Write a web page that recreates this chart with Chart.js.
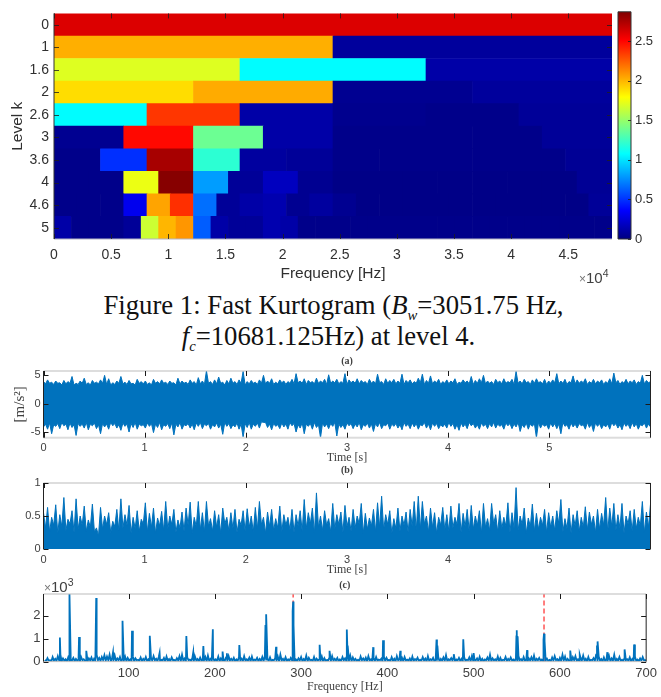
<!DOCTYPE html>
<html>
<head>
<meta charset="utf-8">
<title>Fast Kurtogram</title>
<script src="https://cdn.jsdelivr.net/npm/chart.js@4"></script>
<style>
    html, body { margin: 0; padding: 0; background: #fff; }
    #page { position: relative; width: 661px; height: 697px; overflow: hidden; }
    #page canvas { position: absolute; }
    .scale-note { position: absolute; font-family: "Liberation Sans", sans-serif; color: #404040; white-space: nowrap; }
    .scale-note sup { font-size: 70%; line-height: 0; }
    .scale-note i { font-style: normal; font-size: 80%; color: #777; }
    #caption { position: absolute; left: 0; top: 290px; width: 661px; text-align: center; color: #111;
        font: 26.7px/31px "Liberation Serif", serif; }
    #caption div { position: relative; }
    #caption sub { font-size: 55%; line-height: 0; font-style: italic; }
</style>
</head>
<body>
<div id="page">
    <canvas id="kurtogram" width="616" height="285" style="left:0;top:0"></canvas>
    <canvas id="colorbar" width="49" height="285" style="left:612px;top:0"></canvas>
    <div class="scale-note" style="left:579px;top:269px;font-size:15px"><i>×</i>10<sup>4</sup></div>
    <div id="caption">
        <div style="left:3px">Figure 1: Fast Kurtogram (<i>B</i><sub>w</sub>=3051.75 Hz,</div>
        <div style="left:-2px"><i>f</i><sub>c</sub>=10681.125Hz) at level 4.</div>
    </div>
    <canvas id="waveform" width="661" height="114" style="left:0;top:352px"></canvas>
    <canvas id="envelope" width="661" height="116" style="left:0;top:461px"></canvas>
    <canvas id="spectrum" width="661" height="121" style="left:0;top:576px"></canvas>
    <div class="scale-note" style="left:44px;top:578px;font-size:15px"><i>×</i>10<sup>3</sup></div>
</div>
<script>
// Kurtogram: one row of band values per level, low to high frequency
const levels = ['0', '1', '1.6', '2', '2.6', '3', '3.6', '4', '4.6', '5'];
const kurtMax = 2.87;
const nyquist = 48828;
const kRow0 = [2.61];
const kRow1 = [2.02, 0.08];
const kRow2 = [1.70, 1.07, 0.11];
const kRow3 = [1.89, 2.03, 0.05, 0.08];
const kRow4 = [1.07, 2.36, 0.11, 0.04, 0.03, 0.07];
const kRow5 = [0.05, 2.49, 1.38, 0.11, 0.03, 0.03, 0.03, 0.07];
const kRow6 = [0.03, 0.49, 2.76, 1.20, 0.09, 0.07, 0.03, 0.03, 0.03, 0.03, 0.03, 0.06];
const kRow7 = [0.03, 0.03, 1.74, 2.85, 0.80, 0.07, 0.18, 0.05, 0.02, 0.02, 0.02, 0.02, 0.02, 0.02, 0.02, 0.06];
const kRow8 = [0.03, 0.03, 0.03, 0.31, 2.05, 2.38, 0.67, 0.07, 0.11, 0.135, 0.05, 0.09,
    0.05, 0.02, 0.02, 0.02, 0.02, 0.02, 0.02, 0.02, 0.02, 0.02, 0.02, 0.07];
const kRow9 = [0.11, 0.03, 0.03, 0.03, 0.07, 1.65, 2.00, 2.09, 0.62, 0.11, 0.07, 0.07, 0.135, 0.11, 0.03, 0.03,
    0.03, 0.03, 0.03, 0.03, 0.03, 0.03, 0.03, 0.03, 0.03, 0.03, 0.03, 0.03, 0.03, 0.03, 0.03, 0.03];
const kRows = [kRow0, kRow1, kRow2, kRow3, kRow4, kRow5, kRow6, kRow7, kRow8, kRow9];
const kFreqTicks = [0, 5000, 10000, 15000, 20000, 25000, 30000, 35000, 40000, 45000];
const kBarTicks = [0, 0.5, 1, 1.5, 2, 2.5];

// Panel (a): spike tops of the raw signal, and the notches between them
const aHigh = [3.9, 4.2, 3.8, 4.0, 3.7, 4.1, 3.9, 4.8, 3.6, 4.0,
    4.5, 3.7, 4.1, 3.8, 4.2, 5.0, 4.4, 3.7, 4.0, 4.8,
    3.8, 4.1, 3.6, 4.3, 3.9, 4.0, 3.7, 4.3, 3.9, 4.2,
    3.8, 4.0, 3.7, 4.5, 4.0, 3.8, 4.2, 3.9, 4.6, 4.0,
    5.8, 3.9, 4.2, 4.7, 3.8, 4.1, 4.5, 3.9, 4.2, 5.7,
    3.9, 4.1, 3.8, 4.2, 5.0, 4.0, 4.4, 3.8, 4.2, 4.0,
    3.9, 4.3, 5.3, 4.0, 4.4, 4.1, 3.9, 4.5, 4.0, 4.3,
    5.1, 4.0, 4.3, 3.9, 5.3, 4.2, 4.0, 4.4, 4.1, 3.9,
    4.3, 4.0, 5.2, 3.9, 4.4, 4.1, 4.3, 4.0, 5.2, 4.1,
    4.2, 3.9, 4.5, 5.2, 4.1, 4.9, 4.0, 4.3, 3.9, 4.2,
    4.0, 4.4, 3.8, 4.2, 4.0, 4.8, 4.1, 4.4, 5.0, 4.0,
    3.9, 4.3, 4.0, 4.4, 3.9, 4.3, 5.7, 4.0, 4.3, 3.9,
    4.2, 4.4, 3.9, 4.3, 4.0, 4.2, 5.3, 4.0, 4.3, 3.9,
    4.9, 4.2, 4.0, 4.4, 3.9, 4.3, 4.0, 4.2, 3.9, 4.4,
    5.4, 4.1, 3.9, 4.3, 4.0, 4.2, 3.9, 5.0, 4.1, 3.9];
const aHighNotch = [3.5, 3.6, 3.4, 3.6, 3.3, 3.5, 3.6, 3.3, 3.4, 3.6,
    3.4, 3.3, 3.6, 3.5, 3.6, 3.4, 3.3, 3.4, 3.6, 3.5,
    3.4, 3.5, 3.3, 3.6, 3.5, 3.4, 3.3, 3.6, 3.5, 3.6,
    3.4, 3.6, 3.3, 3.5, 3.6, 3.4, 3.6, 3.3, 3.5, 3.4,
    3.6, 3.4, 3.5, 3.6, 3.3, 3.5, 3.6, 3.4, 3.6, 3.3,
    3.5, 3.6, 3.4, 3.6, 3.5, 3.6, 3.4, 3.5, 3.7, 3.4,
    3.6, 3.5, 3.7, 3.6, 3.4, 3.7, 3.5, 3.6, 3.7, 3.4,
    3.6, 3.7, 3.5, 3.6, 3.4, 3.7, 3.6, 3.5, 3.7, 3.4,
    3.6, 3.5, 3.7, 3.4, 3.6, 3.7, 3.5, 3.6, 3.4, 3.7,
    3.5, 3.6, 3.7, 3.4, 3.6, 3.5, 3.7, 3.4, 3.6, 3.5,
    3.7, 3.4, 3.6, 3.7, 3.5, 3.4, 3.6, 3.7, 3.5, 3.6,
    3.4, 3.7, 3.5, 3.6, 3.7, 3.4, 3.6, 3.5, 3.7, 3.4,
    3.6, 3.7, 3.5, 3.4, 3.6, 3.7, 3.5, 3.6, 3.4, 3.7,
    3.5, 3.6, 3.7, 3.4, 3.6, 3.5, 3.7, 3.4, 3.6, 3.5,
    3.7, 3.4, 3.6, 3.5, 3.7, 3.4, 3.6, 3.5, 3.7, 3.5];
const aLow = [-4.1, -4.5, -5.3, -4.0, -4.4, -3.9, -4.6, -4.2, -5.6, -4.0,
    -4.3, -4.6, -3.9, -4.4, -5.3, -4.1, -4.5, -3.9, -4.3, -4.7,
    -4.0, -5.0, -4.2, -4.5, -3.9, -4.3, -4.0, -5.1, -4.2, -4.6,
    -4.0, -4.4, -5.5, -4.1, -4.5, -3.9, -4.3, -4.6, -4.0, -4.4,
    -3.9, -4.5, -4.1, -4.3, -5.4, -4.0, -4.4, -4.1, -4.5, -5.9,
    -4.2, -4.5, -4.0, -4.3, -3.3, -4.2, -4.6, -4.0, -4.4, -4.1,
    -4.5, -3.9, -5.0, -4.3, -5.3, -4.0, -4.5, -4.2, -6.0, -4.1,
    -4.4, -4.0, -5.7, -4.2, -4.5, -3.9, -4.4, -4.1, -4.6, -4.0,
    -4.3, -4.9, -4.1, -4.4, -3.9, -4.5, -4.0, -4.3, -4.6, -4.0,
    -4.4, -4.1, -4.5, -3.9, -4.3, -4.6, -4.0, -4.4, -4.1, -4.3,
    -4.0, -4.5, -4.7, -4.1, -4.4, -3.9, -4.3, -4.5, -4.0, -4.4,
    -4.1, -4.3, -4.0, -4.5, -3.9, -4.4, -4.1, -4.9, -4.2, -4.5,
    -4.0, -6.0, -4.3, -4.0, -4.5, -4.1, -4.4, -5.3, -4.0, -4.5,
    -4.1, -4.3, -3.9, -4.5, -4.2, -4.9, -4.0, -4.4, -4.1, -4.5,
    -3.9, -4.3, -4.6, -4.0, -4.4, -4.1, -4.5, -3.9, -4.3, -4.1];
const aLowNotch = [-3.6, -3.4, -3.7, -3.5, -3.3, -3.6, -3.4, -3.7, -3.5, -3.6,
    -3.3, -3.6, -3.4, -3.7, -3.5, -3.6, -3.3, -3.5, -3.7, -3.4,
    -3.6, -3.5, -3.3, -3.6, -3.7, -3.4, -3.5, -3.6, -3.3, -3.7,
    -3.5, -3.4, -3.6, -3.3, -3.7, -3.5, -3.6, -3.4, -3.3, -3.6,
    -3.5, -3.7, -3.4, -3.6, -3.3, -3.5, -3.7, -3.4, -3.6, -3.5,
    -3.3, -3.6, -3.4, -3.2, -3.3, -3.6, -3.5, -3.7, -3.4, -3.6,
    -3.3, -3.5, -3.7, -3.4, -3.6, -3.5, -3.3, -3.7, -3.4, -3.6,
    -3.5, -3.3, -3.6, -3.7, -3.4, -3.5, -3.6, -3.3, -3.7, -3.4,
    -3.6, -3.5, -3.3, -3.7, -3.4, -3.6, -3.5, -3.7, -3.3, -3.6,
    -3.4, -3.5, -3.7, -3.3, -3.6, -3.4, -3.5, -3.7, -3.6, -3.3,
    -3.5, -3.7, -3.4, -3.6, -3.3, -3.5, -3.7, -3.4, -3.6, -3.5,
    -3.3, -3.6, -3.7, -3.4, -3.5, -3.6, -3.3, -3.7, -3.4, -3.6,
    -3.5, -3.3, -3.6, -3.7, -3.4, -3.5, -3.6, -3.3, -3.7, -3.4,
    -3.6, -3.5, -3.7, -3.3, -3.6, -3.4, -3.5, -3.7, -3.6, -3.3,
    -3.5, -3.7, -3.4, -3.6, -3.3, -3.5, -3.7, -3.4, -3.6, -3.5];
const aXTicks = [0, 1, 2, 3, 4, 5];
const aYTicks = [-5, 0, 5];

// Panel (b): spike tops and the valleys between them, one pair per time step
const bPeaks = [0.55, 0.63, 0.48, 0.67, 0.52, 0.78, 0.45, 0.58, 0.76, 0.50,
    0.65, 0.44, 0.68, 0.32, 0.63, 0.50, 0.55, 0.42, 0.60, 0.76,
    0.52, 0.66, 0.48, 0.58, 0.45, 0.70, 0.54, 0.62, 0.47, 0.57,
    0.72, 0.50, 0.60, 0.44, 0.56, 0.62, 0.71, 0.48, 0.72, 0.55,
    0.72, 0.46, 0.58, 0.52, 0.62, 0.48, 0.55, 0.60, 0.45, 0.58,
    0.61, 0.50, 0.63, 0.72, 0.48, 0.56, 0.60, 0.46, 0.65, 0.52,
    0.48, 0.60, 0.52, 0.58, 0.75, 0.55, 0.62, 0.85, 0.50, 0.58,
    0.46, 0.69, 0.52, 0.56, 0.66, 0.48, 0.60, 0.50, 0.69, 0.54,
    0.47, 0.60, 0.70, 0.80, 0.52, 0.58, 0.46, 0.62, 0.50, 0.56,
    0.60, 0.72, 0.80, 0.72, 0.50, 0.62, 0.55, 0.48, 0.63, 0.52,
    0.65, 0.48, 0.69, 0.54, 0.60, 0.66, 0.50, 0.58, 0.69, 0.46,
    0.69, 0.52, 0.58, 0.48, 0.70, 0.55, 0.93, 0.50, 0.62, 0.47,
    0.68, 0.54, 0.48, 0.60, 0.55, 0.50, 0.58, 0.75, 0.46, 0.62,
    0.52, 0.58, 0.48, 0.64, 0.56, 0.50, 0.60, 0.54, 0.78, 0.62,
    0.69, 0.52, 0.69, 0.50, 0.58, 0.60, 0.48, 0.72, 0.56, 0.68];
const bValleys = [0.32, 0.26, 0.36, 0.24, 0.34, 0.28, 0.38, 0.25, 0.30, 0.36,
    0.27, 0.33, 0.26, 0.20, 0.30, 0.37, 0.25, 0.34, 0.28, 0.32,
    0.36, 0.24, 0.31, 0.27, 0.38, 0.26, 0.33, 0.24, 0.35, 0.28,
    0.30, 0.37, 0.25, 0.32, 0.27, 0.36, 0.24, 0.34, 0.29, 0.26,
    0.35, 0.27, 0.33, 0.24, 0.38, 0.28, 0.31, 0.25, 0.36, 0.27,
    0.33, 0.26, 0.30, 0.37, 0.24, 0.34, 0.28, 0.32, 0.26, 0.36,
    0.29, 0.25, 0.35, 0.27, 0.31, 0.38, 0.24, 0.33, 0.28, 0.36,
    0.26, 0.30, 0.37, 0.25, 0.34, 0.27, 0.32, 0.38, 0.24, 0.30,
    0.35, 0.26, 0.33, 0.29, 0.37, 0.24, 0.31, 0.27, 0.36, 0.25,
    0.34, 0.28, 0.30, 0.38, 0.26, 0.33, 0.24, 0.36, 0.29, 0.27,
    0.32, 0.37, 0.25, 0.34, 0.27, 0.30, 0.36, 0.24, 0.33, 0.28,
    0.38, 0.26, 0.31, 0.35, 0.25, 0.32, 0.28, 0.37, 0.24, 0.34,
    0.27, 0.30, 0.36, 0.25, 0.33, 0.28, 0.38, 0.26, 0.31, 0.24,
    0.35, 0.27, 0.33, 0.29, 0.37, 0.25, 0.30, 0.36, 0.26, 0.34,
    0.28, 0.32, 0.24, 0.38, 0.27, 0.31, 0.35, 0.25, 0.33, 0.28];
const bXTicks = [0, 1, 2, 3, 4, 5];
const bYTicks = [0, 0.5, 1];

// Panel (c): noise floor tops every 3 Hz from 3 Hz, the dips 1.5 Hz after them, then the spectral lines
const cFloor = [0.08, 0.15, 0.06, 0.20, 0.12, 0.24, 0.30, 0.14, 0.10, 0.18, 0.07, 0.16, 0.12, 0.09, 0.20, 0.10, 0.06, 0.14, 0.18, 0.12,
    0.30, 0.16, 0.20, 0.28, 0.22, 0.30, 0.18, 0.26, 0.14, 0.20, 0.12, 0.22, 0.16, 0.10, 0.24, 0.14, 0.08, 0.18, 0.12, 0.20,
    0.10, 0.17, 0.24, 0.12, 0.20, 0.08, 0.16, 0.22, 0.11, 0.18, 0.07, 0.15, 0.24, 0.30, 0.13, 0.19, 0.09, 0.16, 0.22, 0.11,
    0.17, 0.08, 0.20, 0.26, 0.12, 0.18, 0.10, 0.22, 0.14, 0.08, 0.18, 0.24, 0.12, 0.16, 0.09, 0.20, 0.13, 0.24, 0.10, 0.17,
    0.22, 0.09, 0.16, 0.12, 0.20, 0.25, 0.11, 0.18, 0.08, 0.15, 0.22, 0.30, 0.12, 0.19, 0.10, 0.16, 0.24, 0.09, 0.14, 0.20,
    0.11, 0.26, 0.16, 0.08, 0.20, 0.13, 0.10, 0.22, 0.15, 0.07, 0.18, 0.24, 0.12, 0.16, 0.09, 0.20, 0.14, 0.10, 0.26, 0.18,
    0.12, 0.08, 0.22, 0.14, 0.17, 0.24, 0.10, 0.15, 0.20, 0.09, 0.13, 0.22, 0.16, 0.08, 0.19, 0.12, 0.24, 0.10, 0.16, 0.20,
    0.09, 0.14, 0.22, 0.11, 0.17, 0.08, 0.20, 0.13, 0.24, 0.10, 0.16, 0.07, 0.21, 0.12, 0.18, 0.28, 0.10, 0.15, 0.22, 0.09,
    0.16, 0.12, 0.20, 0.08, 0.18, 0.24, 0.10, 0.14, 0.21, 0.12, 0.09, 0.18, 0.30, 0.14, 0.10, 0.22, 0.16, 0.08, 0.20, 0.12,
    0.18, 0.09, 0.15, 0.24, 0.11, 0.20, 0.08, 0.14, 0.19, 0.26, 0.12, 0.16, 0.09, 0.22, 0.13, 0.07, 0.18, 0.24, 0.11, 0.16,
    0.30, 0.22, 0.12, 0.08, 0.19, 0.24, 0.10, 0.16, 0.26, 0.12, 0.20, 0.08, 0.15, 0.30, 0.22, 0.11, 0.18, 0.09, 0.24, 0.14,
    0.30, 0.12, 0.20, 0.08, 0.16, 0.10, 0.18, 0.12, 0.22, 0.09, 0.14, 0.20, 0.06];
const cDips = [0.02, 0.04, 0.01, 0.05, 0.03, 0.06, 0.02, 0.04, 0.01, 0.03, 0.05, 0.02, 0.04, 0.01, 0.06, 0.03, 0.02, 0.05, 0.01, 0.04,
    0.06, 0.03, 0.07, 0.04, 0.06, 0.02, 0.05, 0.03, 0.06, 0.01, 0.04, 0.02, 0.05, 0.03, 0.01, 0.06, 0.04, 0.02, 0.05, 0.03,
    0.01, 0.04, 0.06, 0.02, 0.03, 0.05, 0.01, 0.04, 0.02, 0.06, 0.03, 0.05, 0.01, 0.04, 0.02, 0.06, 0.03, 0.01, 0.05, 0.02,
    0.04, 0.06, 0.01, 0.03, 0.05, 0.02, 0.04, 0.01, 0.06, 0.03, 0.02, 0.05, 0.04, 0.01, 0.03, 0.06, 0.02, 0.04, 0.05, 0.01,
    0.03, 0.06, 0.02, 0.04, 0.01, 0.05, 0.03, 0.02, 0.06, 0.04, 0.01, 0.05, 0.03, 0.02, 0.04, 0.06, 0.01, 0.03, 0.05, 0.02,
    0.04, 0.01, 0.06, 0.03, 0.02, 0.05, 0.04, 0.01, 0.03, 0.06, 0.02, 0.04, 0.05, 0.01, 0.03, 0.06, 0.02, 0.04, 0.01, 0.05,
    0.03, 0.02, 0.06, 0.04, 0.01, 0.05, 0.03, 0.02, 0.04, 0.06, 0.01, 0.03, 0.05, 0.02, 0.04, 0.01, 0.06, 0.03, 0.02, 0.05,
    0.04, 0.01, 0.03, 0.06, 0.02, 0.04, 0.05, 0.01, 0.03, 0.06, 0.02, 0.04, 0.01, 0.05, 0.03, 0.02, 0.06, 0.04, 0.01, 0.05,
    0.03, 0.02, 0.04, 0.06, 0.01, 0.03, 0.05, 0.02, 0.04, 0.01, 0.06, 0.03, 0.02, 0.05, 0.04, 0.01, 0.03, 0.06, 0.02, 0.04,
    0.05, 0.01, 0.03, 0.06, 0.02, 0.04, 0.01, 0.05, 0.03, 0.02, 0.06, 0.04, 0.01, 0.05, 0.03, 0.02, 0.04, 0.06, 0.01, 0.03,
    0.05, 0.02, 0.04, 0.01, 0.06, 0.03, 0.02, 0.05, 0.04, 0.01, 0.03, 0.06, 0.02, 0.04, 0.05, 0.01, 0.03, 0.06, 0.02, 0.04,
    0.01, 0.05, 0.03, 0.02, 0.06, 0.04, 0.01, 0.05, 0.03, 0.02, 0.04, 0.06, 0.01];
const cLineFreq = [20.4, 31.5, 42.6, 51, 62.5, 82, 93, 104, 124.6, 136, 167, 175, 186.7, 197.7, 209, 214, 228.4,
    258.7, 259.5, 271, 290.2, 290.8, 291.5, 321.5, 333, 353, 354, 383.6, 395, 415, 457, 458, 477, 488, 500,
    549.6, 550, 551, 562, 581, 581.6, 582.5, 612, 623, 643, 643.7, 655, 675, 686];
const cLineAmp = [1.05, 2.95, 1.07, 0.47, 2.77, 0.40, 1.78, 1.35, 1.13, 0.38, 1.12, 0.40, 0.68, 1.41, 0.44, 0.36, 0.72,
    1.60, 2.07, 0.65, 2.20, 2.62, 1.60, 0.73, 0.47, 1.40, 0.70, 0.63, 0.93, 0.47, 0.96, 0.70, 0.32, 0.97, 0.37,
    1.10, 1.37, 1.10, 0.50, 0.95, 1.22, 0.90, 0.48, 0.30, 0.70, 0.88, 0.41, 0.53, 0.75];
const cHarmonics = [290.8, 581.6];
const cXTicks = [100, 200, 300, 400, 500, 600, 700];
const cYTicks = [0, 1, 2];

const BLUE = '#0072BD';
const SANS = '"Liberation Sans", Arial, sans-serif';
const SERIF = '"Liberation Serif", "Times New Roman", serif';
const TICK_TEXT = '#404040';

Chart.defaults.animation = false;
Chart.defaults.responsive = false;
Chart.defaults.plugins.legend.display = false;
Chart.defaults.plugins.tooltip.enabled = false;

// Matlab jet colormap, t from 0 to 1
function jet(t) {
    const ramp = (u) => Math.max(0, Math.min(1, u));
    const c = [
        ramp(Math.min(4 * t - 1.5, -4 * t + 4.5)),
        ramp(Math.min(4 * t - 0.5, -4 * t + 3.5)),
        ramp(Math.min(4 * t + 0.5, -4 * t + 2.5))
    ];
    return 'rgb(' + c.map(v => Math.round(v * 255)).join(',') + ')';
}

// Inward tick marks and the box round the axes, the way Matlab draws them
const boxPlugin = {
    id: 'box',
    afterDatasetsDraw(chart, args, o) {
        const ctx = chart.ctx;
        const a = chart.chartArea;
        ctx.save();
        (o.edges || []).forEach(e => {
            ctx.fillStyle = e.color;
            if (e.side === 'top') ctx.fillRect(a.left, a.top - e.width / 2, a.width, e.width);
            if (e.side === 'bottom') ctx.fillRect(a.left, a.bottom - e.width / 2, a.width, e.width);
            if (e.side === 'left') ctx.fillRect(a.left - e.width / 2, a.top, e.width, a.height);
            if (e.side === 'right') ctx.fillRect(a.right - e.width / 2, a.top, e.width, a.height);
        });
        ctx.fillStyle = o.tickColor || '#1a1a1a';
        const len = o.tickLength || 5;
        const sides = o.tickSides || '';
        if (chart.scales.x && chart.scales.x.options.display !== false) {
            chart.scales.x.ticks.forEach((t, i) => {
                const px = Math.round(chart.scales.x.getPixelForTick(i));
                if (sides.includes('t')) ctx.fillRect(px, a.top, 1, len);
                if (sides.includes('b')) ctx.fillRect(px, a.bottom - len, 1, len);
            });
        }
        chart.scales.y.ticks.forEach((t, i) => {
            const py = Math.round(chart.scales.y.getPixelForTick(i));
            if (sides.includes('l')) ctx.fillRect(a.left, py, len, 1);
            if (sides.includes('r')) ctx.fillRect(a.right - len, py, len, 1);
        });
        ctx.restore();
    }
};

function axisSize(size, key) {
    return function (scale) { scale[key] = size; };
}

function setTicks(values) {
    return function (scale) { scale.ticks = values.map(v => ({ value: v })); };
}

// ---- Kurtogram ----
const kBars = [];
const kColors = [];
kRows.forEach((row, r) => {
    row.forEach((value, i) => {
        kBars.push({ x: [nyquist * i / row.length, nyquist * (i + 1) / row.length], y: levels[r] });
        kColors.push(jet(value / kurtMax));
    });
});

new Chart(document.getElementById('kurtogram'), {
    type: 'bar',
    data: {
        labels: levels,
        datasets: [{ data: kBars, backgroundColor: kColors, barPercentage: 1, categoryPercentage: 1 }]
    },
    options: {
        indexAxis: 'y',
        layout: { padding: { top: 6, right: 4 } },
        scales: {
            x: {
                type: 'linear', min: 0, max: nyquist,
                grid: { display: false, drawTicks: false }, border: { display: false },
                afterBuildTicks: setTicks(kFreqTicks),
                afterFit: axisSize(46, 'height'),
                ticks: {
                    color: '#303030', font: { family: SANS, size: 14 }, padding: 8, maxRotation: 0, autoSkip: false,
                    callback: v => String(v / 10000)
                },
                title: {
                    display: true, text: 'Frequency [Hz]', color: '#303030',
                    font: { family: SANS, size: 15.5 }, padding: { top: 0, bottom: 2 }
                }
            },
            y: {
                type: 'category',
                grid: { display: false, drawTicks: false }, border: { display: false },
                afterFit: axisSize(54, 'width'),
                ticks: { color: '#303030', font: { family: SANS, size: 14 }, padding: 5, autoSkip: false },
                title: {
                    display: true, text: 'Level k', color: '#303030',
                    font: { family: SANS, size: 15.5 }, padding: { top: 8, bottom: 0 }
                }
            }
        },
        plugins: {
            box: {
                tickSides: 'tblr', tickLength: 5, tickColor: 'rgba(30,30,30,0.8)',
                edges: [
                    { side: 'left', color: '#333', width: 1 },
                    { side: 'bottom', color: '#b4b4c4', width: 1 }
                ]
            }
        }
    },
    plugins: [boxPlugin]
});

// ---- Colour bar ----
new Chart(document.getElementById('colorbar'), {
    type: 'bar',
    data: {
        labels: ['k'],
        datasets: [{
            data: [[0, kurtMax]],
            barPercentage: 1,
            categoryPercentage: 1,
            backgroundColor: (c) => {
                const area = c.chart.chartArea;
                if (!area) return '#000080';
                const g = c.chart.ctx.createLinearGradient(0, area.bottom, 0, area.top);
                [0, 0.125, 0.375, 0.625, 0.875, 1].forEach(s => g.addColorStop(s, jet(s)));
                return g;
            }
        }]
    },
    options: {
        layout: { padding: { top: 6, left: 6, bottom: 46 } },
        scales: {
            x: { display: false },
            y: {
                position: 'right', min: 0, max: kurtMax,
                grid: { display: false, drawTicks: false }, border: { display: false },
                afterBuildTicks: setTicks(kBarTicks),
                afterFit: axisSize(30, 'width'),
                ticks: {
                    color: '#303030', font: { family: SANS, size: 13 }, padding: 4, autoSkip: false,
                    callback: v => String(v)
                }
            }
        },
        plugins: {
            box: {
                tickSides: 'r', tickLength: 3, tickColor: 'rgba(30,30,30,0.8)',
                edges: [
                    { side: 'left', color: '#333', width: 1 },
                    { side: 'right', color: '#333', width: 1 },
                    { side: 'top', color: '#333', width: 1 },
                    { side: 'bottom', color: '#333', width: 1 }
                ]
            }
        }
    },
    plugins: [boxPlugin]
});

// Shared options for the three lower panels
function panelOptions(cfg) {
    return {
        layout: { padding: { right: 10.5 } },
        elements: { point: { radius: 0 }, line: { tension: 0 } },
        scales: {
            x: {
                type: 'linear', min: cfg.xMin, max: cfg.xMax,
                grid: { display: false, drawTicks: false }, border: { display: false },
                afterBuildTicks: setTicks(cfg.xTicks),
                afterFit: axisSize(cfg.bottom, 'height'),
                ticks: {
                    color: TICK_TEXT, font: { family: SANS, size: cfg.fontSize }, padding: cfg.xPad,
                    maxRotation: 0, autoSkip: false, callback: v => String(v)
                },
                title: {
                    display: true, text: cfg.xTitle, color: TICK_TEXT,
                    font: { family: SERIF, size: 12 }, padding: { top: 0, bottom: cfg.xTitlePad }
                }
            },
            y: {
                min: cfg.yMin, max: cfg.yMax,
                grid: { display: false, drawTicks: false }, border: { display: false },
                afterBuildTicks: setTicks(cfg.yTicks),
                afterFit: axisSize(43.5, 'width'),
                ticks: {
                    color: TICK_TEXT, font: { family: SANS, size: cfg.fontSize }, padding: 3,
                    autoSkip: false, callback: v => String(v)
                },
                title: {
                    display: !!cfg.yTitle, text: cfg.yTitle, color: TICK_TEXT,
                    font: { family: SERIF, size: 15 }, padding: { top: 11, bottom: 0 }
                }
            }
        },
        plugins: {
            title: {
                display: true, text: cfg.title, color: TICK_TEXT, fullSize: false,
                font: { family: SERIF, size: 10 }, padding: { top: 3, bottom: cfg.titlePad }
            },
            box: {
                tickSides: cfg.tickSides, tickLength: 5, tickColor: '#1a1a1a',
                edges: cfg.edges
            }
        }
    };
}

// Time steps shared by panels (a) and (b), spanning the full 6 s record
const tStep = 6 / 149;
const aTimes = aHigh.map((v, i) => i * tStep);

// Alternate spike and notch so the band keeps its ragged edge
function spikeTrace(tops, notches) {
    const out = [];
    tops.forEach((v, i) => {
        out.push({ x: aTimes[i], y: v });
        if (i < tops.length - 1) out.push({ x: aTimes[i] + tStep / 2, y: notches[i] });
    });
    return out;
}

new Chart(document.getElementById('waveform'), {
    type: 'line',
    data: {
        datasets: [
            {
                data: spikeTrace(aHigh, aHighNotch),
                borderColor: BLUE, backgroundColor: BLUE, borderWidth: 1, fill: '+1'
            },
            {
                data: spikeTrace(aLow, aLowNotch),
                borderColor: BLUE, borderWidth: 1, fill: false
            }
        ]
    },
    options: panelOptions({
        xMin: 0, xMax: 6, xTicks: aXTicks, yMin: -6, yMax: 5.77, yTicks: aYTicks,
        bottom: 28.3, fontSize: 11, xPad: 4, xTitle: 'Time [s]', xTitlePad: 0.8,
        yTitle: '[m/s²]', title: '(a)', titlePad: 4, tickSides: 'tblr',
        edges: [
            { side: 'top', color: '#bcbcbc', width: 1 },
            { side: 'bottom', color: '#dcdcdc', width: 2 },
            { side: 'left', color: '#222', width: 1 },
            { side: 'right', color: '#222', width: 1 }
        ]
    }),
    plugins: [boxPlugin]
});

new Chart(document.getElementById('envelope'), {
    type: 'line',
    data: {
        datasets: [{
            data: spikeTrace(bPeaks, bValleys),
            borderColor: BLUE, backgroundColor: BLUE, borderWidth: 1, fill: 'origin'
        }]
    },
    options: panelOptions({
        xMin: 0, xMax: 6, xTicks: bXTicks, yMin: 0, yMax: 1, yTicks: bYTicks,
        bottom: 28, fontSize: 11, xPad: 4, xTitle: 'Time [s]', xTitlePad: 0,
        yTitle: '', title: '(b)', titlePad: 7, tickSides: 'tlr',
        edges: [
            { side: 'top', color: '#bcbcbc', width: 1 },
            { side: 'left', color: '#222', width: 1 },
            { side: 'right', color: '#222', width: 1 }
        ]
    }),
    plugins: [boxPlugin]
});

// Floor, dips and spectral lines merged into one frequency-ordered trace
const cSeries = cFloor.map((v, i) => ({ x: (i + 1) * 3, y: v }))
    .concat(cDips.map((v, i) => ({ x: (i + 1) * 3 + 1.5, y: v })))
    .concat(cLineFreq.map((f, i) => ({ x: f, y: cLineAmp[i] })))
    .sort((p, q) => p.x - q.x);

new Chart(document.getElementById('spectrum'), {
    type: 'line',
    data: {
        datasets: [
            { data: cSeries, borderColor: BLUE, borderWidth: 1.8, fill: false },
            {
                data: [{ x: cHarmonics[0], y: 0 }, { x: cHarmonics[0], y: 2.95 }],
                borderColor: 'rgba(255,40,40,0.8)', borderWidth: 1.5, borderDash: [5, 3], fill: false
            },
            {
                data: [{ x: cHarmonics[1], y: 0 }, { x: cHarmonics[1], y: 2.95 }],
                borderColor: 'rgba(255,40,40,0.8)', borderWidth: 1.5, borderDash: [5, 3], fill: false
            }
        ]
    },
    options: panelOptions({
        xMin: 1.4, xMax: 700, xTicks: cXTicks, yMin: 0, yMax: 2.95, yTicks: cYTicks,
        bottom: 35.4, fontSize: 13, xPad: 4, xTitle: 'Frequency [Hz]', xTitlePad: 2.8,
        yTitle: '', title: '(c)', titlePad: 3, tickSides: 'tlr',
        edges: [
            { side: 'top', color: '#bcbcbc', width: 1 },
            { side: 'bottom', color: '#bcbcbc', width: 1 },
            { side: 'left', color: '#222', width: 1 },
            { side: 'right', color: '#222', width: 1 }
        ]
    }),
    plugins: [boxPlugin]
});
</script>
</body>
</html>
